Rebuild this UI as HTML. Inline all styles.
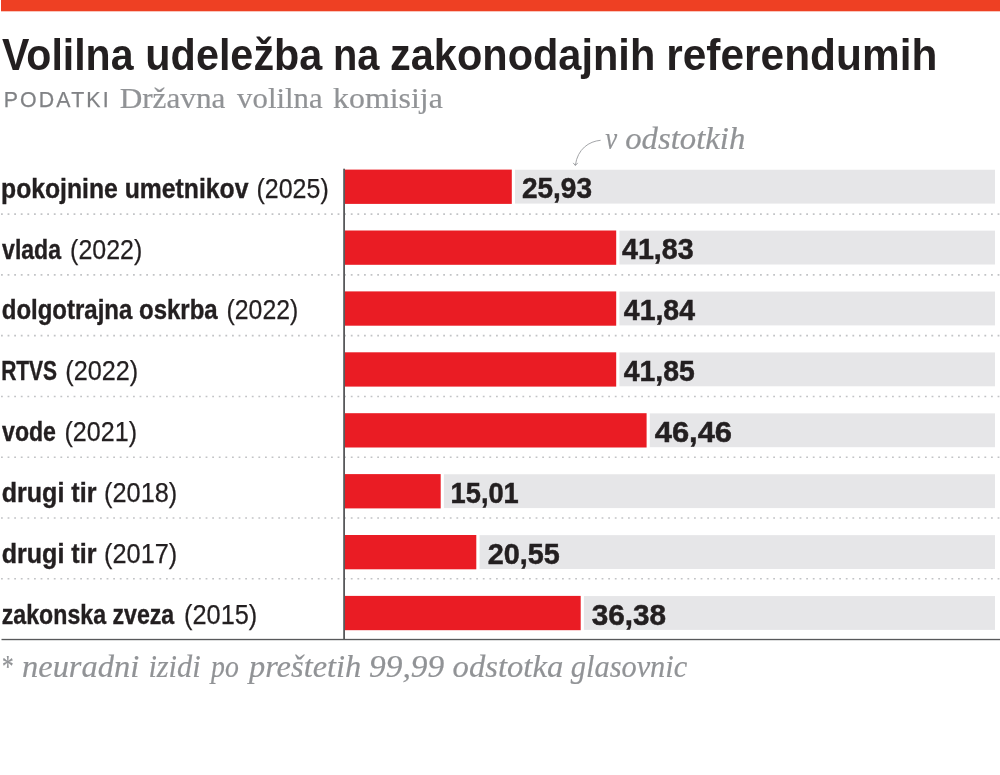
<!DOCTYPE html>
<html lang="sl"><head><meta charset="utf-8"><title>Volilna udeležba na zakonodajnih referendumih</title>
<style>
html,body{margin:0;padding:0;background:#fff;}
body{width:1000px;height:775px;overflow:hidden;font-family:"Liberation Sans",sans-serif;}
svg{display:block;}
.t{font-family:"Liberation Sans",sans-serif;font-weight:700;fill:#231f20;}
.lb{font-family:"Liberation Sans",sans-serif;font-weight:700;fill:#231f20;stroke:#231f20;stroke-width:0.4px;}
.lr{font-family:"Liberation Sans",sans-serif;font-weight:400;fill:#231f20;stroke:#231f20;stroke-width:0.25px;}
.v{font-family:"Liberation Sans",sans-serif;font-weight:700;fill:#231f20;stroke:#231f20;stroke-width:0.5px;}
.sc{font-family:"Liberation Sans",sans-serif;font-weight:400;fill:#808285;stroke:#808285;stroke-width:0.25px;}
.se{font-family:"Liberation Serif",serif;fill:#919396;stroke:#919396;stroke-width:0.2px;}
.it{font-family:"Liberation Serif",serif;font-style:italic;fill:#919396;stroke:#919396;stroke-width:0.2px;}
</style></head><body>
<svg width="1000" height="775" viewBox="0 0 1000 775">
<rect x="0" y="0" width="1000" height="775" fill="#ffffff"/>
<rect x="1" y="0" width="999" height="11.3" fill="#ee4023"/>
<path d="M600.6,140.3 C589,141.3 577.6,149 575.4,165" fill="none" stroke="#999b9e" stroke-width="0.9"/>
<path d="M573.2,162.9 L575.4,165.6 L577.7,162.9" fill="none" stroke="#999b9e" stroke-width="0.9"/>
<rect x="344" y="169.75" width="651" height="33.85" fill="#e6e6e8"/>
<rect x="344" y="169.00" width="171.00" height="35.50" fill="#ffffff"/>
<rect x="344" y="169.60" width="167.80" height="34.30" fill="#ea1c24"/>
<line x1="1" y1="214.15" x2="1000" y2="214.15" stroke="#c2c4c6" stroke-width="1.6" stroke-dasharray="1.8 4.8"/>
<rect x="344" y="230.65" width="651" height="33.85" fill="#e6e6e8"/>
<rect x="344" y="229.90" width="275.40" height="35.50" fill="#ffffff"/>
<rect x="344" y="230.50" width="272.20" height="34.30" fill="#ea1c24"/>
<line x1="1" y1="274.91" x2="1000" y2="274.91" stroke="#c2c4c6" stroke-width="1.6" stroke-dasharray="1.8 4.8"/>
<rect x="344" y="291.55" width="651" height="33.85" fill="#e6e6e8"/>
<rect x="344" y="290.80" width="275.40" height="35.50" fill="#ffffff"/>
<rect x="344" y="291.40" width="272.20" height="34.30" fill="#ea1c24"/>
<line x1="1" y1="335.67" x2="1000" y2="335.67" stroke="#c2c4c6" stroke-width="1.6" stroke-dasharray="1.8 4.8"/>
<rect x="344" y="352.45" width="651" height="33.85" fill="#e6e6e8"/>
<rect x="344" y="351.70" width="275.40" height="35.50" fill="#ffffff"/>
<rect x="344" y="352.30" width="272.20" height="34.30" fill="#ea1c24"/>
<line x1="1" y1="396.43" x2="1000" y2="396.43" stroke="#c2c4c6" stroke-width="1.6" stroke-dasharray="1.8 4.8"/>
<rect x="344" y="413.35" width="651" height="33.85" fill="#e6e6e8"/>
<rect x="344" y="412.60" width="305.80" height="35.50" fill="#ffffff"/>
<rect x="344" y="413.20" width="302.60" height="34.30" fill="#ea1c24"/>
<line x1="1" y1="457.19" x2="1000" y2="457.19" stroke="#c2c4c6" stroke-width="1.6" stroke-dasharray="1.8 4.8"/>
<rect x="344" y="474.25" width="651" height="33.85" fill="#e6e6e8"/>
<rect x="344" y="473.50" width="99.90" height="35.50" fill="#ffffff"/>
<rect x="344" y="474.10" width="96.70" height="34.30" fill="#ea1c24"/>
<line x1="1" y1="517.95" x2="1000" y2="517.95" stroke="#c2c4c6" stroke-width="1.6" stroke-dasharray="1.8 4.8"/>
<rect x="344" y="535.15" width="651" height="33.85" fill="#e6e6e8"/>
<rect x="344" y="534.40" width="135.50" height="35.50" fill="#ffffff"/>
<rect x="344" y="535.00" width="132.30" height="34.30" fill="#ea1c24"/>
<line x1="1" y1="578.71" x2="1000" y2="578.71" stroke="#c2c4c6" stroke-width="1.6" stroke-dasharray="1.8 4.8"/>
<rect x="344" y="596.05" width="651" height="33.85" fill="#e6e6e8"/>
<rect x="344" y="595.30" width="239.90" height="35.50" fill="#ffffff"/>
<rect x="344" y="595.90" width="236.70" height="34.30" fill="#ea1c24"/>
<rect x="343.2" y="168.7" width="1.8" height="471" fill="#58595b"/>
<rect x="1.5" y="638.85" width="998.5" height="1.35" fill="#58595b"/>
<text><tspan id="t0" class="t" x="2.00" y="70.10" font-size="44" textLength="131.45" lengthAdjust="spacingAndGlyphs">Volilna</tspan> <tspan id="t1" class="t" x="145.36" y="70.10" font-size="44" textLength="176.97" lengthAdjust="spacingAndGlyphs">udeležba</tspan> <tspan id="t2" class="t" x="332.91" y="70.10" font-size="44" textLength="46.43" lengthAdjust="spacingAndGlyphs">na</tspan> <tspan id="t3" class="t" x="389.95" y="70.10" font-size="44" textLength="265.33" lengthAdjust="spacingAndGlyphs">zakonodajnih</tspan> <tspan id="t4" class="t" x="666.27" y="70.10" font-size="44" textLength="271.07" lengthAdjust="spacingAndGlyphs">referendumih</tspan></text>
<text><tspan class="sc" x="3.7" y="107.2" font-size="21.3" textLength="104.9" lengthAdjust="spacing">PODATKI</tspan> <tspan id="t5" class="se" x="119.70" y="107.50" font-size="29.5" textLength="105.73" lengthAdjust="spacingAndGlyphs">Državna</tspan> <tspan id="t6" class="se" x="237.13" y="107.50" font-size="29.5" textLength="85.43" lengthAdjust="spacingAndGlyphs">volilna</tspan> <tspan id="t7" class="se" x="333.06" y="107.50" font-size="29.5" textLength="109.75" lengthAdjust="spacingAndGlyphs">komisija</tspan></text>
<text><tspan id="t8" class="it" x="605.14" y="149.00" font-size="30.5" textLength="11.91" lengthAdjust="spacingAndGlyphs">v</tspan> <tspan id="t9" class="it" x="625.23" y="149.00" font-size="30.5" textLength="120.06" lengthAdjust="spacingAndGlyphs">odstotkih</tspan></text>
<text><tspan id="t10" class="it" x="0.76" y="677.30" font-size="32.5" textLength="11.84" lengthAdjust="spacingAndGlyphs">*</tspan> <tspan id="t11" class="it" x="22.01" y="677.30" font-size="32.5" textLength="117.21" lengthAdjust="spacingAndGlyphs">neuradni</tspan> <tspan id="t12" class="it" x="148.38" y="677.30" font-size="32.5" textLength="52.22" lengthAdjust="spacingAndGlyphs">izidi</tspan> <tspan id="t13" class="it" x="211.10" y="677.30" font-size="32.5" textLength="27.78" lengthAdjust="spacingAndGlyphs">po</tspan> <tspan id="t14" class="it" x="249.00" y="677.30" font-size="32.5" textLength="112.25" lengthAdjust="spacingAndGlyphs">preštetih</tspan> <tspan id="t15" class="it" x="369.06" y="677.30" font-size="32.5" textLength="75.15" lengthAdjust="spacingAndGlyphs">99,99</tspan> <tspan id="t16" class="it" x="452.61" y="677.30" font-size="32.5" textLength="110.65" lengthAdjust="spacingAndGlyphs">odstotka</tspan> <tspan id="t17" class="it" x="570.83" y="677.30" font-size="32.5" textLength="116.40" lengthAdjust="spacingAndGlyphs">glasovnic</tspan></text>
<text><tspan id="t18" class="lb" x="1.03" y="197.60" font-size="28.4" textLength="247.44" lengthAdjust="spacingAndGlyphs">pokojnine umetnikov</tspan> <tspan id="t19" class="lr" x="256.49" y="197.60" font-size="28.4" textLength="72.24" lengthAdjust="spacingAndGlyphs">(2025)</tspan> <tspan id="t20" class="v" x="521.88" y="198.20" font-size="29.5" textLength="70.11" lengthAdjust="spacingAndGlyphs">25,93</tspan></text>
<text><tspan id="t21" class="lb" x="2.06" y="258.50" font-size="28.4" textLength="58.98" lengthAdjust="spacingAndGlyphs">vlada</tspan> <tspan id="t22" class="lr" x="70.08" y="258.50" font-size="28.4" textLength="72.20" lengthAdjust="spacingAndGlyphs">(2022)</tspan> <tspan id="t23" class="v" x="621.96" y="259.10" font-size="29.5" textLength="71.72" lengthAdjust="spacingAndGlyphs">41,83</tspan></text>
<text><tspan id="t24" class="lb" x="1.75" y="319.40" font-size="28.4" textLength="215.91" lengthAdjust="spacingAndGlyphs">dolgotrajna oskrba</tspan> <tspan id="t25" class="lr" x="226.54" y="319.40" font-size="28.4" textLength="71.74" lengthAdjust="spacingAndGlyphs">(2022)</tspan> <tspan id="t26" class="v" x="623.85" y="320.00" font-size="29.5" textLength="71.09" lengthAdjust="spacingAndGlyphs">41,84</tspan></text>
<text><tspan id="t27" class="lb" x="1.14" y="380.30" font-size="28.4" textLength="55.96" lengthAdjust="spacingAndGlyphs">RTVS</tspan> <tspan id="t28" class="lr" x="65.34" y="380.30" font-size="28.4" textLength="72.91" lengthAdjust="spacingAndGlyphs">(2022)</tspan> <tspan id="t29" class="v" x="623.76" y="380.90" font-size="29.5" textLength="70.97" lengthAdjust="spacingAndGlyphs">41,85</tspan></text>
<text><tspan id="t30" class="lb" x="2.06" y="441.20" font-size="28.4" textLength="53.90" lengthAdjust="spacingAndGlyphs">vode</tspan> <tspan id="t31" class="lr" x="64.52" y="441.20" font-size="28.4" textLength="72.47" lengthAdjust="spacingAndGlyphs">(2021)</tspan> <tspan id="t32" class="v" x="654.74" y="441.80" font-size="29.5" textLength="77.29" lengthAdjust="spacingAndGlyphs">46,46</tspan></text>
<text><tspan id="t33" class="lb" x="1.71" y="502.10" font-size="28.4" textLength="94.71" lengthAdjust="spacingAndGlyphs">drugi tir</tspan> <tspan id="t34" class="lr" x="104.08" y="502.10" font-size="28.4" textLength="73.17" lengthAdjust="spacingAndGlyphs">(2018)</tspan> <tspan id="t35" class="v" x="450.58" y="502.70" font-size="29.5" textLength="68.20" lengthAdjust="spacingAndGlyphs">15,01</tspan></text>
<text><tspan id="t36" class="lb" x="1.71" y="563.00" font-size="28.4" textLength="94.71" lengthAdjust="spacingAndGlyphs">drugi tir</tspan> <tspan id="t37" class="lr" x="104.08" y="563.00" font-size="28.4" textLength="73.17" lengthAdjust="spacingAndGlyphs">(2017)</tspan> <tspan id="t38" class="v" x="487.63" y="563.60" font-size="29.5" textLength="72.07" lengthAdjust="spacingAndGlyphs">20,55</tspan></text>
<text><tspan id="t39" class="lb" x="1.78" y="623.90" font-size="28.4" textLength="172.45" lengthAdjust="spacingAndGlyphs">zakonska zveza</tspan> <tspan id="t40" class="lr" x="184.02" y="623.90" font-size="28.4" textLength="73.29" lengthAdjust="spacingAndGlyphs">(2015)</tspan> <tspan id="t41" class="v" x="591.70" y="624.50" font-size="29.5" textLength="74.31" lengthAdjust="spacingAndGlyphs">36,38</tspan></text>
</svg>
</body></html>
